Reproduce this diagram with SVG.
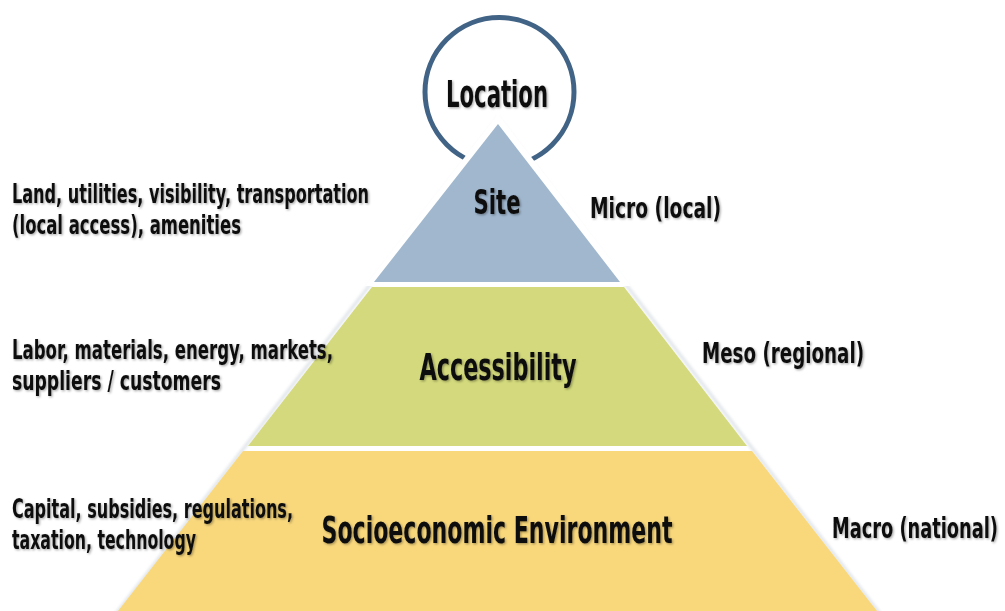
<svg xmlns="http://www.w3.org/2000/svg" width="1005" height="611" viewBox="0 0 1005 611">
<defs>
<filter id="sh" x="-10%" y="-30%" width="120%" height="160%">
<feDropShadow dx="1.2" dy="1.2" stdDeviation="0.9" flood-color="#000" flood-opacity="0.35"/>
</filter>
<filter id="glow" x="-10%" y="-10%" width="120%" height="120%">
<feGaussianBlur stdDeviation="1.5"/>
</filter>
</defs>
<style>
text{font-family:"Liberation Sans Narrow","DejaVu Sans Condensed","DejaVu Sans",sans-serif;font-weight:bold;fill:#111;filter:url(#sh)}
.side{font-size:26px}
.lvl{font-size:29px}
.title{font-size:38px;text-anchor:middle}
</style>
<rect width="1005" height="611" fill="#fff"/>
<g id="edge-glow">
<polygon points="498,119 115,615 881,615" fill="none" stroke="#dfe3e8" stroke-width="3" filter="url(#glow)"/>
</g>
<g id="location">
<circle cx="499.5" cy="92" r="74.5" fill="none" stroke="#416385" stroke-width="5"/>
<text class="title" x="497" y="107" textLength="102" lengthAdjust="spacingAndGlyphs">Location</text>
</g>
<g id="site">
<polygon points="498,114 365,286 631,286" fill="#fff"/>
<polygon points="498,124 374,282 620,282" fill="#a0b7ce"/>
<text class="title" x="497" y="214" style="font-size:33px" textLength="47" lengthAdjust="spacingAndGlyphs">Site</text>
</g>
<g id="accessibility">
<polygon points="372,287 624,287 747,446 248,446" fill="#d3d97c"/>
<text class="title" x="498" y="380" textLength="157" lengthAdjust="spacingAndGlyphs">Accessibility</text>
</g>
<g id="socioeconomic">
<polygon points="243,451 752,451 877,611 118,611" fill="#f9d87c"/>
<text class="title" x="497" y="543" textLength="351" lengthAdjust="spacingAndGlyphs">Socioeconomic Environment</text>
</g>
<g id="labels-left">
<text class="side" x="12" y="203" textLength="357" lengthAdjust="spacingAndGlyphs">Land, utilities, visibility, transportation</text>
<text class="side" x="12" y="234" textLength="229" lengthAdjust="spacingAndGlyphs">(local access), amenities</text>
<text class="side" x="12" y="359" textLength="321" lengthAdjust="spacingAndGlyphs">Labor, materials, energy, markets,</text>
<text class="side" x="12" y="390" textLength="209" lengthAdjust="spacingAndGlyphs">suppliers / customers</text>
<text class="side" x="12" y="518" textLength="281" lengthAdjust="spacingAndGlyphs">Capital, subsidies, regulations,</text>
<text class="side" x="12" y="549" textLength="184" lengthAdjust="spacingAndGlyphs">taxation, technology</text>
</g>
<g id="labels-right">
<text class="lvl" x="590" y="218" textLength="131" lengthAdjust="spacingAndGlyphs">Micro (local)</text>
<text class="lvl" x="702" y="363" textLength="162" lengthAdjust="spacingAndGlyphs">Meso (regional)</text>
<text class="lvl" x="832" y="538" textLength="166" lengthAdjust="spacingAndGlyphs">Macro (national)</text>
</g>
</svg>
